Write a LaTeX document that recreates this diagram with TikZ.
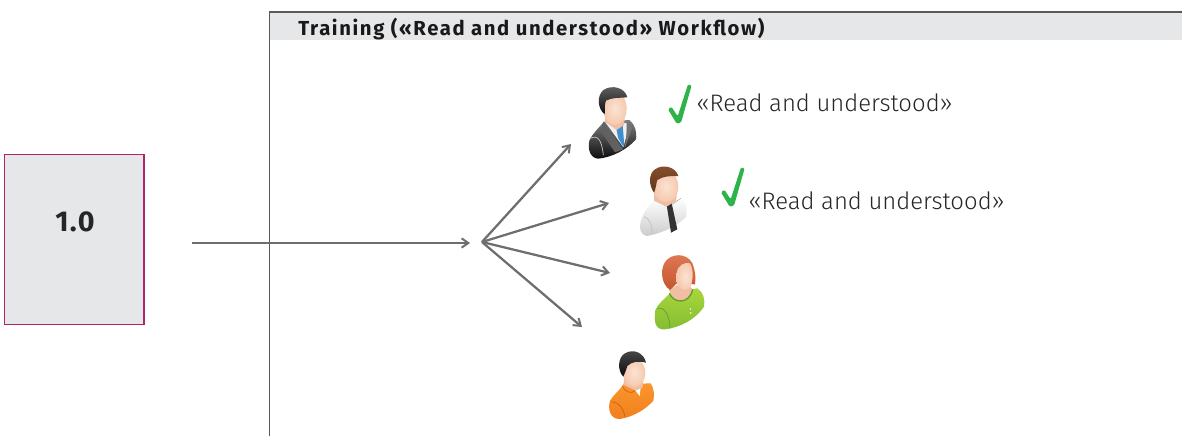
\documentclass[tikz,border=0pt]{standalone}
\usepackage{fontspec}
\setmainfont{Fira Sans}
\newfontfamily\lightfont{Fira Sans Light}
\usetikzlibrary{arrows.meta}
\definecolor{panelgrey}{HTML}{E6E7E8}
\definecolor{framegrey}{HTML}{58595B}
\definecolor{arrowgrey}{HTML}{6D6E70}
\definecolor{boxmagenta}{HTML}{B0246E}
\definecolor{checkgreen}{HTML}{2DB34A}
\definecolor{skinA}{HTML}{FCE3D3}
\definecolor{skinB}{HTML}{F5C8AE}
\definecolor{neckskin}{HTML}{EFBEA3}
\definecolor{greenA}{HTML}{A9D63C}
\definecolor{greenB}{HTML}{84BD32}
\definecolor{greenC}{HTML}{5F9E2C}
\definecolor{hairA}{HTML}{E07A55}
\definecolor{hairB}{HTML}{C4552E}
\definecolor{brownA}{HTML}{8A5230}
\definecolor{brownB}{HTML}{5E3418}
\definecolor{orangeA}{HTML}{F9962B}
\definecolor{orangeB}{HTML}{F27F1E}
\definecolor{orangeC}{HTML}{C85F14}
\definecolor{tieblue}{HTML}{3F8FD0}
\tikzset{
  x=0.75pt,y=-0.75pt,
  flow/.style={draw=arrowgrey,line width=1.7pt,-{Straight Barb[length=5pt,width=7pt,line width=1.5pt]}},
  plain/.style={font=\lightfont\fontsize{17.9}{20}\selectfont,text=black!85,inner sep=0pt,anchor=west},
  titletext/.style={font=\fontsize{15.2}{18}\selectfont\bfseries\addfontfeatures{LetterSpace=8},text=black!90,inner sep=0pt,anchor=west},
  zoomed/.style={shift={(#1)},scale=1/3},
  seam/.style={line width=0.5pt,line cap=round},
}
\newcommand{\tickat}[2]{%
  \fill[checkgreen,shift={(#1,#2)},scale=1/3,rounded corners=1pt]
    (0,76) -- (10,68) -- (29,97) -- (60,1) -- (71,4) -- (39,116) -- (26,119) -- cycle;}
\begin{document}
\begin{tikzpicture}
\useasboundingbox (0,0) rectangle (1182,436);
% panel
\fill[panelgrey] (269,12) rectangle (1182,40);
\coordinate (framebottom) at (269.5,436);
\coordinate (frameright) at (1182,12);
\draw[framegrey,line width=0.9pt] (framebottom) |- (frameright);
\node[titletext] (title) at (298,29.5) {Training («Read and understood» Workflow)};
% source box
\node[draw=boxmagenta,fill=panelgrey,line width=0.9pt,minimum width=104.6pt,minimum height=127pt,inner sep=0pt] (version) at (74.3,239.5) {};
\node[font=\fontsize{21.5}{24}\selectfont\bfseries\addfontfeatures{LetterSpace=5},text=black!85,inner sep=0pt] (versionlabel) at (75,222) {1.0};
% connectors
\coordinate (start) at (192,243);
\coordinate (arrive) at (470,243);
\coordinate (hub) at (482,242);
\coordinate (p1) at (571,144);
\coordinate (p2) at (609,203);
\coordinate (p3) at (610,273);
\coordinate (p4) at (582,327);
\draw[flow] (start) -- (arrive);
\draw[flow] (hub) -- (p1);
\draw[flow] (hub) -- (p2);
\draw[flow] (hub) -- (p3);
\draw[flow] (hub) -- (p4);
% man in dark suit
\begin{scope}[zoomed={570,70}]
  \shade[top color=black!50,bottom color=black!95]
    (58,212) .. controls (68,190) and (85,175) .. (102,155) -- (178,150)
    .. controls (196,165) and (201,185) .. (198,208)
    .. controls (170,240) and (125,262) .. (85,266)
    .. controls (62,265) and (52,240) .. (58,212) -- cycle;
  \fill[white!94!black] (103,152) -- (170,160) -- (170,195) -- (160,232) -- cycle;
  \fill[tieblue] (137,168) -- (158,165) -- (163,228) -- (157,226) -- (145,205) -- cycle;
  \fill[black!62] (100,155) -- (160,238) -- (135,247) -- (92,182) -- cycle;
  \fill[black!55] (173,152) -- (186,175) -- (164,235) -- (170,190) -- cycle;
  \draw[seam,black!20] (62,205) .. controls (80,195) and (95,205) .. (100,255);
  \fill[neckskin] (105,120) -- (105,155) -- (140,180) -- (162,165) -- (165,130) -- cycle;
  \shade[inner color=skinA,outer color=skinB] (135,116) ellipse (35 and 50);
  \shade[top color=black!60,bottom color=black!95]
    (104,133) .. controls (82,115) and (80,78) .. (100,60)
    .. controls (125,43) and (165,52) .. (172,82)
    .. controls (150,84) and (125,82) .. (108,92)
    .. controls (102,105) and (106,120) .. (104,133) -- cycle;
\end{scope}
\tickat{668}{84}
\node[plain] (read1) at (696,103) {«Read and understood»};
% man in white shirt
\begin{scope}[zoomed={570,70}]
  \shade[top color=white,bottom color=black!20]
    (212,455) .. controls (222,420) and (240,405) .. (252,390) -- (335,383)
    .. controls (350,395) and (352,420) .. (349,440)
    .. controls (320,470) and (270,492) .. (230,498)
    .. controls (212,495) and (206,475) .. (212,455) -- cycle;
  \draw[seam,black!30] (252,390) -- (295,410) -- (333,385);
  \draw[seam,black!25] (222,440) .. controls (238,445) and (245,460) .. (247,490);
  \fill[black!80] (290,405) -- (305,400) -- (322,478) -- (303,488) -- cycle;
  \fill[neckskin] (252,350) -- (252,392) -- (290,410) -- (318,392) -- (322,360) -- cycle;
  \shade[inner color=skinA,outer color=skinB] (288,350) ellipse (37 and 47);
  \shade[top color=brownA,bottom color=brownB]
    (252,368) .. controls (236,345) and (235,312) .. (255,298)
    .. controls (280,280) and (318,292) .. (325,318)
    .. controls (300,318) and (280,318) .. (262,330)
    .. controls (258,342) and (258,355) .. (252,368) -- cycle;
\end{scope}
\tickat{721}{167}
\node[plain] (read2) at (748,201) {«Read and understood»};
% woman in green
\begin{scope}[zoomed={570,240}]
  \shade[top color=greenA,bottom color=greenB]
    (256,210) .. controls (265,190) and (285,175) .. (300,160) -- (382,145)
    .. controls (400,155) and (406,180) .. (402,200)
    .. controls (375,240) and (330,262) .. (285,268)
    .. controls (258,270) and (250,250) .. (256,210) -- cycle;
  \fill[neckskin] (298,150) .. controls (305,190) and (358,195) .. (368,148) -- (345,120) -- cycle;
  \draw[greenC,line width=1pt] (298,160) .. controls (310,190) and (358,195) .. (368,148);
  \draw[seam,greenC] (262,205) .. controls (285,200) and (298,225) .. (300,265);
  \shade[top color=hairA,bottom color=hairB]
    (300,150) .. controls (270,130) and (270,80) .. (290,60)
    .. controls (315,35) and (365,42) .. (372,85)
    .. controls (378,105) and (376,120) .. (375,133) -- (320,130) -- cycle;
  \shade[inner color=skinA,outer color=skinB]
    (320,100) .. controls (322,75) and (345,65) .. (360,70)
    .. controls (370,85) and (372,125) .. (358,145)
    .. controls (345,155) and (325,148) .. (320,125) -- cycle;
  \fill[white] (361,207) circle (2.5) (362,219) circle (2.5);
\end{scope}
% man in orange
\begin{scope}[zoomed={570,240}]
  \shade[top color=orangeA,bottom color=orangeB]
    (120,482) .. controls (130,465) and (150,450) .. (160,433) -- (242,430)
    .. controls (252,445) and (254,465) .. (250,482)
    .. controls (225,510) and (190,530) .. (150,537)
    .. controls (122,538) and (112,510) .. (120,482) -- cycle;
  \draw[seam,orangeC] (158,440) .. controls (165,455) and (185,465) .. (197,450);
  \draw[seam,orangeC] (125,485) .. controls (145,485) and (160,505) .. (165,530);
  \fill[white] (195,450) -- (212,443) -- (209,468) -- cycle;
  \fill[neckskin] (165,400) -- (160,434) -- (197,452) -- (218,442) -- (222,400) -- cycle;
  \shade[inner color=skinA,outer color=skinB] (193,398) ellipse (33 and 43);
  \shade[top color=black!70,bottom color=black!95]
    (160,410) .. controls (140,390) and (145,350) .. (165,340)
    .. controls (190,325) and (222,338) .. (228,368)
    .. controls (205,362) and (185,365) .. (172,378)
    .. controls (168,390) and (165,400) .. (160,410) -- cycle;
\end{scope}
\end{tikzpicture}
\end{document}
